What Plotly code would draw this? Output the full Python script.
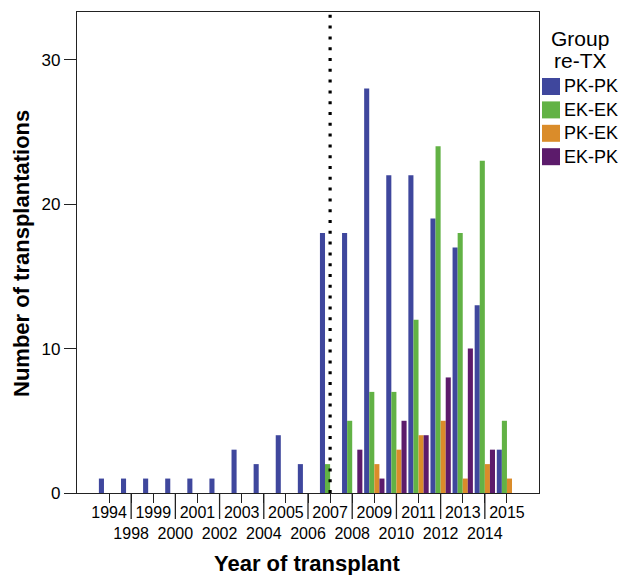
import plotly.graph_objects as go

# ---- data ----
years = ["1994", "1998", "1999", "2000", "2001", "2002", "2003", "2004", "2005", "2006",
         "2007", "2008", "2009", "2010", "2011", "2012", "2013", "2014", "2015"]
pk_pk = [1, 1, 1, 1, 1, 1, 3, 2, 4, 2, 18, 18, 28, 22, 22, 19, 17, 13, 3]
ek_ek = [0, 0, 0, 0, 0, 0, 0, 0, 0, 0, 2, 5, 7, 7, 12, 24, 18, 23, 5]
pk_ek = [0, 0, 0, 0, 0, 0, 0, 0, 0, 0, 0, 0, 2, 3, 4, 5, 1, 2, 1]
ek_pk = [0, 0, 0, 0, 0, 0, 0, 0, 0, 0, 0, 3, 1, 5, 4, 8, 10, 3, 0]
series_names = ["PK-PK", "EK-EK", "PK-EK", "EK-PK"]
series_colors = ["#3F479D", "#62B245", "#DA8C2A", "#5C1B6B"]
legend_title_lines = ["Group", "re-TX"]
divider_year = "2007"
y_ticks = [0, 10, 20, 30]

FONT = "Liberation Sans, Arial, Helvetica, sans-serif"
W, H = 622, 575
ML, MR, MT, MB = 77, 83, 12, 82
PW, PH = W - ML - MR, H - MT - MB


def px_x(px):
    return (px - ML) / PW


def px_y(py):
    return (H - MB - py) / PH


fig = go.Figure()
for name, vals, col in zip(series_names, [pk_pk, ek_ek, pk_ek, ek_pk], series_colors):
    fig.add_trace(go.Bar(x=years, y=vals, name=name, marker=dict(color=col, line=dict(width=0))))

ticktext = [y if i % 2 == 0 else "<br>" + y for i, y in enumerate(years)]

shapes = []
annotations = []
# long ticks for the lower label row (positioned at category index)
for i, y in enumerate(years):
    if i % 2 == 1:
        shapes.append(dict(type="line", xref="x", yref="paper", x0=i, x1=i, y0=0, y1=-26 / PH,
                           line=dict(color="#222", width=1.3)))
# dotted divider at the divider year
div_idx = years.index(divider_year)
shapes.append(dict(type="line", xref="x", yref="paper", x0=div_idx, x1=div_idx, y0=0, y1=1,
                   line=dict(color="black", width=3.2, dash="3px,7.8px")))

# legend (drawn as swatches + labels to match the original's compact layout)
for k, (name, col) in enumerate(zip(series_names, series_colors)):
    cy = 86.5 + 23.4 * k
    shapes.append(dict(type="rect", xref="paper", yref="paper",
                       x0=px_x(542), x1=px_x(560), y0=px_y(cy + 8.5), y1=px_y(cy - 8.5),
                       fillcolor=col, line=dict(width=0)))
    annotations.append(dict(text=name, xref="paper", yref="paper", x=px_x(562), y=px_y(cy),
                            xanchor="left", yanchor="middle", showarrow=False,
                            font=dict(size=18, family=FONT, color="black")))
for k, line in enumerate(legend_title_lines):
    annotations.append(dict(text=line, xref="paper", yref="paper", x=px_x(580), y=px_y(39 + 21.5 * k),
                            xanchor="center", yanchor="middle", showarrow=False,
                            font=dict(size=21, family=FONT, color="black")))

annotations += [
    dict(text="<b>Year of transplant</b>", xref="paper", yref="paper",
         x=px_x(307), y=px_y(563), xanchor="center", yanchor="middle",
         showarrow=False, font=dict(size=22, family=FONT, color="black")),
    dict(text="<b>Number of transplantations</b>", xref="paper", yref="paper",
         x=px_x(22), y=px_y(254), xanchor="center", yanchor="middle",
         textangle=-90, showarrow=False, font=dict(size=22, family=FONT, color="black")),
]

fig.update_layout(
    width=W, height=H,
    margin=dict(l=ML, r=MR, t=MT, b=MB, autoexpand=False),
    paper_bgcolor="white", plot_bgcolor="white",
    barmode="group", bargap=0.08, bargroupgap=0,
    font=dict(family=FONT, color="black"),
    showlegend=False,
    xaxis=dict(type="category", tickvals=years, ticktext=ticktext,
               range=[-1.45, len(years) - 1 + 1.45],
               ticks="outside", ticklen=9, tickwidth=1.3, tickcolor="#222",
               ticklabelstandoff=-4,
               tickfont=dict(size=16, family=FONT, color="black"),
               showline=True, linecolor="#222", linewidth=1.3, mirror=True,
               showgrid=False, zeroline=False, tickangle=0, automargin=False),
    yaxis=dict(range=[0, 33.3], tickvals=y_ticks,
               ticks="outside", ticklen=12, tickwidth=1.3, tickcolor="#222",
               tickfont=dict(size=17, family=FONT, color="black"),
               showline=True, linecolor="#222", linewidth=1.3, mirror=True,
               showgrid=False, zeroline=False, automargin=False),
    shapes=shapes,
    annotations=annotations,
)

fig.write_html("out.html")
